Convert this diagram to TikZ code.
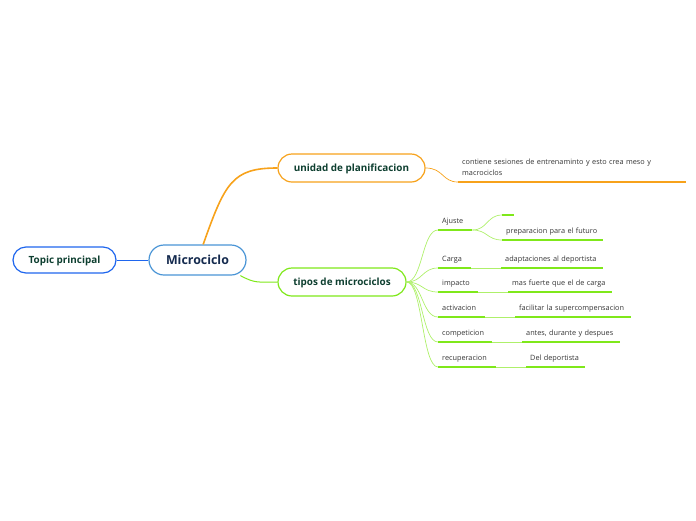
\documentclass[tikz,border=0pt]{standalone}
\usepackage{fontspec}
\setmainfont{Open Sans}
\definecolor{topblue}{HTML}{1F66EE}
\definecolor{midblue}{HTML}{4A95D6}
\definecolor{orangeb}{HTML}{F7A21B}
\definecolor{greenb}{HTML}{7FE81A}
\definecolor{greenl}{HTML}{AEF06A}
\definecolor{darkgr}{HTML}{0E3F30}
\definecolor{darknv}{HTML}{142A4E}
\definecolor{txtgr}{HTML}{333333}
\begin{document}
\begin{tikzpicture}[x=1pt, y=-1pt,
  topic/.style={draw, rounded corners=13pt, line width=1.2pt, fill=white,
    font=\bfseries\fontsize{9.9}{11}\selectfont, text=darkgr, inner sep=0pt,
    text height=7pt, text depth=0pt},
  sub/.style={anchor=south west, inner xsep=4pt, inner ysep=4pt,
    text height=6pt, text depth=2.5pt, align=left, text width=#1,
    font=\fontsize{7.3}{11}\selectfont, text=txtgr},
  uline/.style={line width=1.8pt},
  thin/.style={line width=0.7pt}]

  \useasboundingbox (0,0) rectangle (696,520);

  % main topics
  \node[topic, draw=topblue, minimum width=103pt, minimum height=26pt] (topic) at (64.5,260) {Topic principal};
  \node[topic, draw=midblue, text=darknv, font=\bfseries\fontsize{12.4}{14}\selectfont, text height=9pt,
    minimum width=97pt, minimum height=30pt, rounded corners=15pt] (micro) at (197.5,260) {Microciclo};
  \node[topic, draw=orangeb, minimum width=147pt, minimum height=28pt, rounded corners=14pt] (unidad) at (351.5,168) {unidad de planificacion};
  \node[topic, draw=greenb, minimum width=128pt, minimum height=28pt, rounded corners=14pt] (tipos) at (342,282) {tipos de microciclos};

  \draw[topblue, line width=1pt] (topic.east) -- (micro.west);
  \draw[orangeb, line width=1.6pt] (micro.70) .. controls +(22,-62) and +(-45,0) .. (unidad.west);
  \draw[greenb, line width=1pt] (micro.-20) .. controls +(15,8) and +(-20,0) .. (tipos.west);

  % unidad de planificacion
  \node[sub=220pt, text depth=13.5pt] (cont) at (458,182)
    {contiene sesiones de entrenaminto y esto crea meso y\\macrociclos};
  \draw[orangeb, uline] (cont.south west) -- (cont.south east);
  \draw[orangeb, thin] (unidad.east) .. controls +(18,0) and +(-16,0) .. (cont.south west);

  % tipos de microciclos
  \node[sub=26pt] (aju) at (438,230) {Ajuste};
  \node[sub=25pt] (car) at (438,268) {Carga};
  \node[sub=32pt] (imp) at (438,292) {impacto};
  \node[sub=39pt] (act) at (438,317) {activacion};
  \node[sub=46pt] (com) at (438,342) {competicion};
  \node[sub=50pt] (rec) at (438,367) {recuperacion};

  \node[sub=4pt] (vac) at (502,215) {};
  \node[sub=93pt] (pre) at (502,240) {preparacion para el futuro};
  \node[sub=94pt] (ada) at (501,268) {adaptaciones al deportista};
  \node[sub=96pt] (mas) at (508,292) {mas fuerte que el de carga};
  \node[sub=108pt] (fac) at (515,317) {facilitar la supercompensacion};
  \node[sub=90pt] (ant) at (522,342) {antes, durante y despues};
  \node[sub=51pt] (del) at (526,367) {Del deportista};

  \foreach \n in {aju,car,imp,act,com,rec,vac,pre,ada,mas,fac,ant,del}
    \draw[greenb, uline] (\n.south west) -- (\n.south east);

  \foreach \n in {aju,car,imp,act,com,rec}
    \draw[greenl, thin] (tipos.east) .. controls +(16,0) and +(-16,0) .. (\n.south west);

  \draw[greenl, thin] (aju.south east) .. controls +(15,0) and +(-15,0) .. (vac.south west);
  \draw[greenl, thin] (aju.south east) .. controls +(15,0) and +(-15,0) .. (pre.south west);
  \draw[greenl, thin] (car.south east) -- (ada.south west);
  \draw[greenl, thin] (imp.south east) -- (mas.south west);
  \draw[greenl, thin] (act.south east) -- (fac.south west);
  \draw[greenl, thin] (com.south east) -- (ant.south west);
  \draw[greenl, thin] (rec.south east) -- (del.south west);
\end{tikzpicture}
\end{document}
